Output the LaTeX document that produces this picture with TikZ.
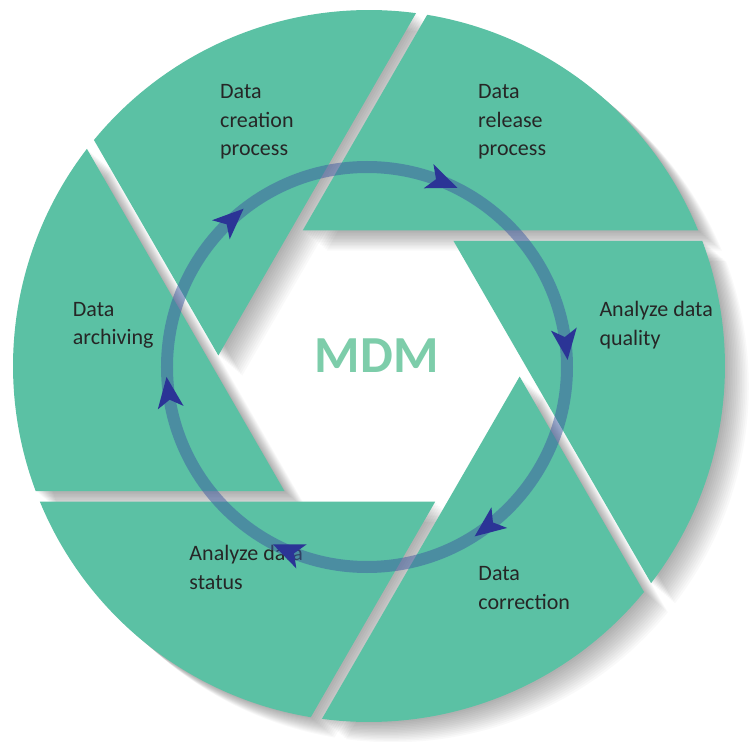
\documentclass[tikz,border=0pt]{standalone}
\usepackage{fontspec}
\setmainfont{Carlito}
\definecolor{bladegreen}{RGB}{91,193,164}
\definecolor{mdmgreen}{RGB}{125,205,170}
\definecolor{ringblue}{RGB}{60,90,160}
\definecolor{arrowblue}{RGB}{43,52,150}
\definecolor{txt}{RGB}{38,38,38}
\tikzset{
  lbl/.style={font=\fontsize{22}{28.5}\selectfont, text=txt, align=left, anchor=base west, inner sep=0pt},
  blade/.style={fill=bladegreen},
  bshadow/.style={fill=black, opacity=0.024},
  ringline/.style={draw=ringblue, opacity=0.5, line width=12pt},
  headfill/.style={fill=arrowblue}
}
\begin{document}
\begin{tikzpicture}[x=1pt,y=1pt]
\useasboundingbox (-369,-376) rectangle (384,366);
\fill[white] (-369,-376) rectangle (384,366);
\def\bladepath{(-66.19,135.72) -- (22.41:356) arc[start angle=22.41, end angle=80.59, radius=356] -- cycle}
% soft shadows
\foreach \k in {0,...,5}{
  \foreach \i in {1,...,14}{
    \path[bshadow, shift={(1.7*\i,-1.45*\i)}, rotate=-60*\k] \bladepath;
  }
}
% blades
\foreach \k in {0,...,5}{
  \path[blade, rotate=-60*\k] \bladepath;
}
% labels (anchored at the baseline of the last line)
\node[lbl] (creation) at (-149,210) {Data\\creation\\process};
\node[lbl] (release) at (109,210) {Data\\release\\process};
\node[lbl] (quality) at (230.3,21) {Analyze data\\quality};
\node[lbl] (correction) at (109.3,-243) {Data\\correction};
\node[lbl] (status) at (-179.7,-223) {Analyze data\\status};
\node[lbl] (archiving) at (-296.3,21.5) {Data\\archiving};
\node[font=\fontsize{52}{60}\selectfont\bfseries, text=mdmgreen, anchor=base, inner sep=0pt] (mdm) at (7.7,-6.7) {MDM};
% ring
\coordinate (rc) at (-2,-1);
\path[ringline] (rc) circle[radius=200];
% arrow heads (clockwise)
\foreach \a in {68.1,6.9,-52.7,-113.1,-172.3,132.8}{
  \path[headfill, shift={(rc)}, shift={(\a:200)}, rotate=\a-90] (17,0) -- (-14,13) -- (-6,0) -- (-14,-13) -- cycle;
}
\end{tikzpicture}
\end{document}
